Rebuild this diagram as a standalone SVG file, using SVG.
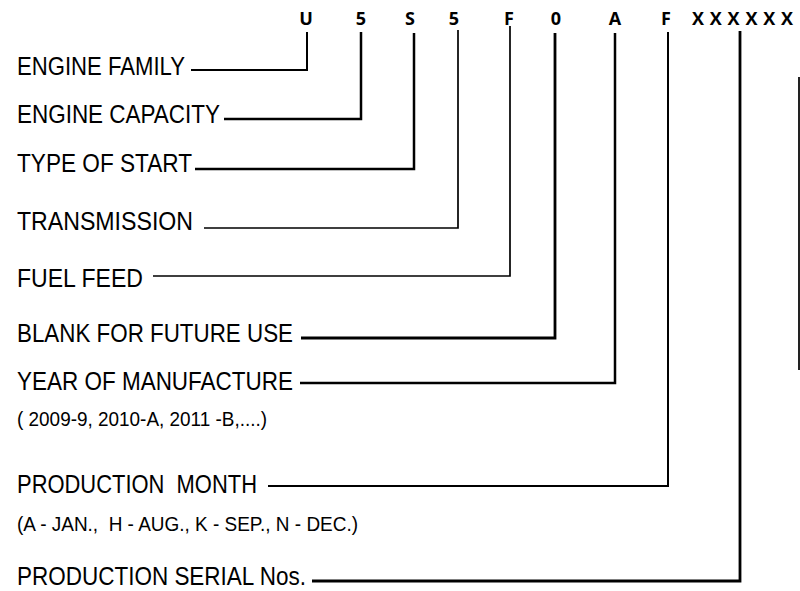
<svg xmlns="http://www.w3.org/2000/svg" width="800" height="591" viewBox="0 0 800 591">
<style>
.code{font-family:"Open Sans","Liberation Sans",sans-serif;font-weight:bold;font-size:18px;fill:#000;text-anchor:middle}
.lbl{font-family:"Liberation Sans",Arial,sans-serif;font-size:26px;fill:#000}
.sub{font-family:"Liberation Sans",Arial,sans-serif;font-size:21px;fill:#000}
.c{fill:none;stroke:#000;stroke-linejoin:miter;stroke-linecap:butt}
</style>
<rect width="800" height="591" fill="#fff"/>
<g id="code">
<text class="code" x="306" y="25">U</text>
<text class="code" x="361" y="25">5</text>
<text class="code" x="410" y="25">S</text>
<text class="code" x="454" y="25">5</text>
<text class="code" x="509" y="25">F</text>
<text class="code" x="556" y="25">0</text>
<text class="code" x="615" y="25">A</text>
<text class="code" x="666" y="25">F</text>
<text class="code" x="692" y="25" style="text-anchor:start" textLength="101" lengthAdjust="spacing">XXXXXX</text>
</g>
<g id="n1"><text class="lbl" x="17" y="75" textLength="168" lengthAdjust="spacingAndGlyphs">ENGINE FAMILY</text></g>
<g id="n2"><text class="lbl" x="17" y="123" textLength="203" lengthAdjust="spacingAndGlyphs">ENGINE CAPACITY</text></g>
<g id="n3"><text class="lbl" x="17" y="172" textLength="175" lengthAdjust="spacingAndGlyphs">TYPE OF START</text></g>
<g id="n4"><text class="lbl" x="17" y="230" textLength="176" lengthAdjust="spacingAndGlyphs">TRANSMISSION</text></g>
<g id="n5"><text class="lbl" x="17" y="287" textLength="126" lengthAdjust="spacingAndGlyphs">FUEL FEED</text></g>
<g id="n6"><text class="lbl" x="17" y="342" textLength="276" lengthAdjust="spacingAndGlyphs">BLANK FOR FUTURE USE</text></g>
<g id="n7">
<text class="lbl" x="17" y="390" textLength="276" lengthAdjust="spacingAndGlyphs">YEAR OF MANUFACTURE</text>
<text class="sub" x="17" y="426" textLength="250" lengthAdjust="spacingAndGlyphs">( 2009-9, 2010-A, 2011 -B,....)</text>
</g>
<g id="n8">
<text class="lbl" x="17" y="493" textLength="240" lengthAdjust="spacingAndGlyphs" xml:space="preserve">PRODUCTION  MONTH</text>
<text class="sub" x="17" y="531" textLength="341" lengthAdjust="spacingAndGlyphs" xml:space="preserve">(A - JAN.,  H - AUG., K - SEP., N - DEC.)</text>
</g>
<g id="n9"><text class="lbl" x="17" y="585" textLength="289" lengthAdjust="spacingAndGlyphs">PRODUCTION SERIAL Nos.</text></g>
<g id="connectors">
<path class="c" stroke-width="2" d="M191 70H307V32"/>
<path class="c" stroke-width="2.5" d="M224 119H361V32"/>
<path class="c" stroke-width="2.5" d="M195 169H414V33"/>
<path class="c" stroke-width="1.7" d="M204 228H458V30"/>
<path class="c" stroke-width="1.7" d="M153 276H510V26"/>
<path class="c" stroke-width="2.8" d="M301 338H555V33"/>
<path class="c" stroke-width="2.5" d="M300 383H615V33"/>
<path class="c" stroke-width="2" d="M268 486H668V32"/>
<path class="c" stroke-width="2.8" d="M312 581H740V31"/>
</g>
<line x1="799" y1="77" x2="799" y2="370" stroke="#222" stroke-width="2"/>
</svg>
